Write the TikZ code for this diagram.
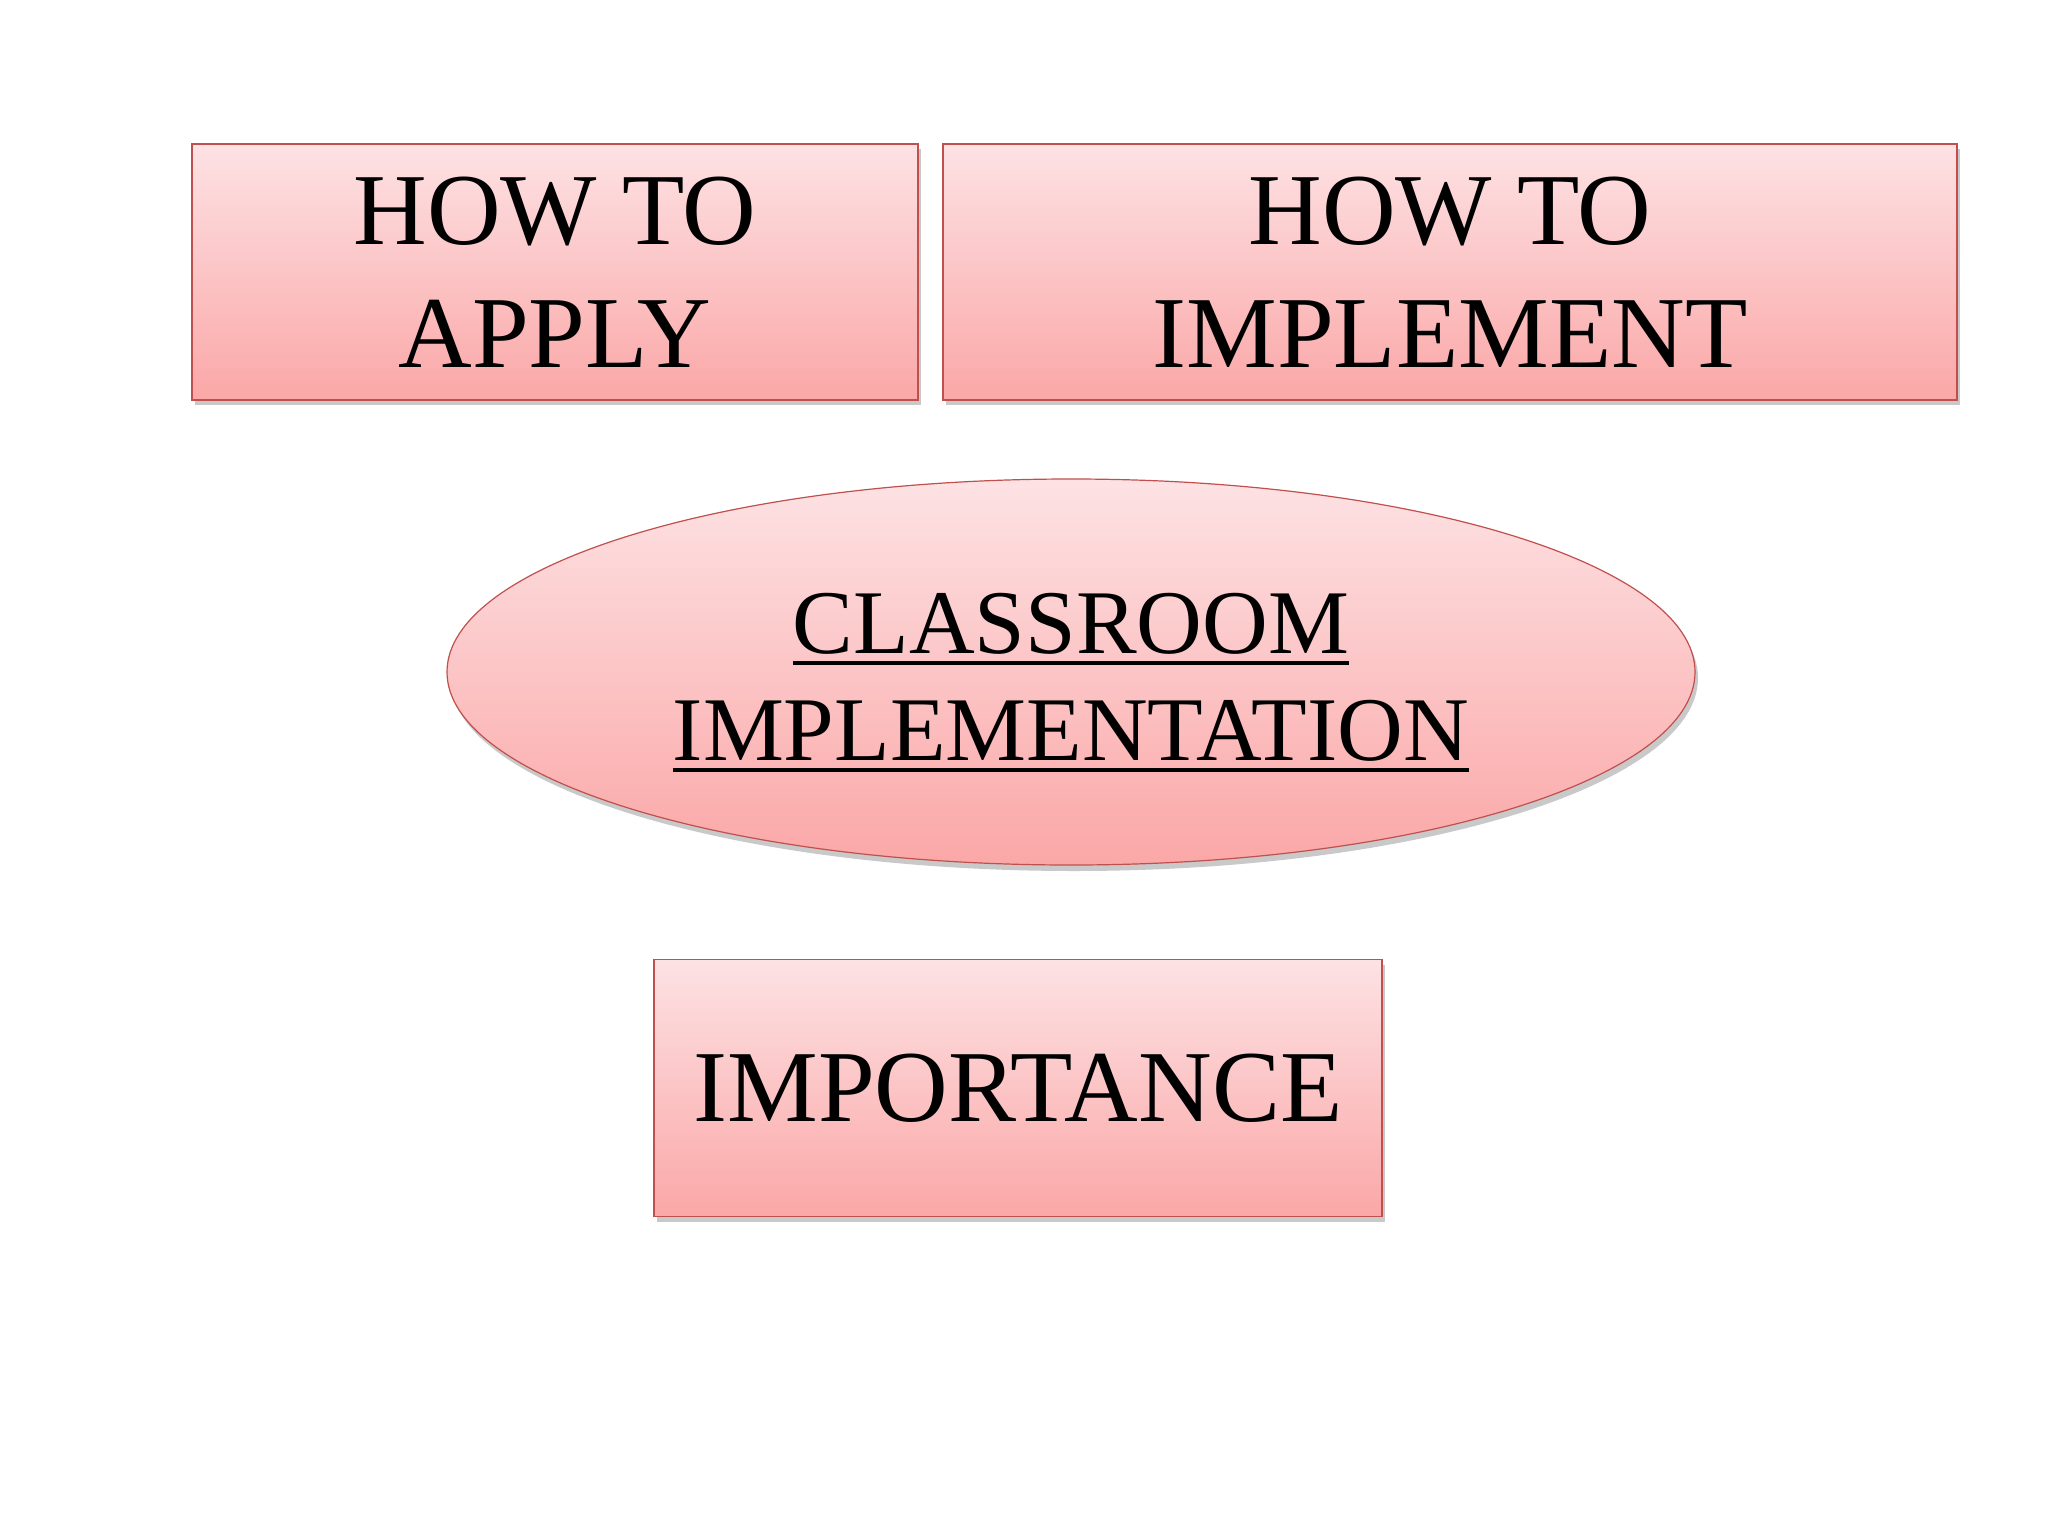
\documentclass[tikz,border=0pt]{standalone}
\usepackage{fontspec}
\setmainfont{Liberation Serif}
\usetikzlibrary{shapes.geometric,shadows}
\definecolor{topc}{HTML}{FDE2E4}
\definecolor{botc}{HTML}{FBA7A7}
\definecolor{edgec}{HTML}{C0504D}
\newcommand\myul[1]{\setbox0\hbox{#1}\rlap{\smash{\rule[-6pt]{\wd0}{2pt}}}\box0}
\tikzset{
  pinkbox/.style={rectangle, draw=edgec, line width=0.9pt, top color=topc, bottom color=botc,
    drop shadow={shadow xshift=1.5pt, shadow yshift=-2.5pt, opacity=0.35, fill=black!60},
    align=center, inner sep=0pt, text=black},
  pinkoval/.style={ellipse, draw=edgec, line width=0.6pt, top color=topc, bottom color=botc,
    drop shadow={shadow xshift=1.5pt, shadow yshift=-3pt, opacity=0.35, fill=black!60},
    align=center, inner sep=0pt, text=black},
  bigtext/.style={font=\fontsize{51}{61.5}\selectfont},
  ovaltext/.style={font=\fontsize{45.5}{53.5}\selectfont}
}
\begin{document}
\begin{tikzpicture}[x=0.5pt, y=-0.5pt]
\useasboundingbox[fill=white] (0,0) rectangle (2048,1536);
\node[pinkbox, bigtext, minimum width=363pt, minimum height=128pt] (apply) at (555,272) {HOW TO\\APPLY};
\node[pinkbox, bigtext, minimum width=507pt, minimum height=128pt] (implement) at (1450,272) {HOW TO\\IMPLEMENT};
\node[pinkoval, minimum width=624pt, minimum height=193pt] (classroom) at (1071,672) {};
\node[ovaltext, align=center, inner sep=0pt] (classtext) at (1071,677) {\myul{CLASSROOM}\\\myul{IMPLEMENTATION}};
\node[pinkbox, bigtext, minimum width=364pt, minimum height=128.5pt] (importance) at (1018,1088) {IMPORTANCE};
\end{tikzpicture}
\end{document}
